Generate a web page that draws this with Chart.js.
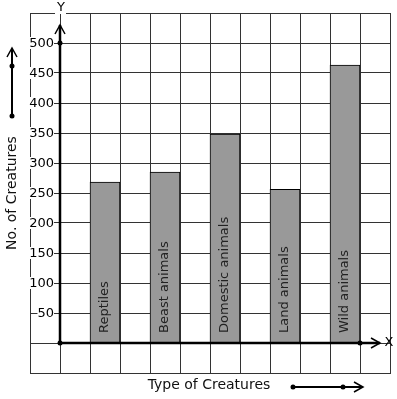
<!DOCTYPE html>
<html>
<head>
<meta charset="utf-8">
<script src="https://cdn.jsdelivr.net/npm/chart.js@4"></script>
<style>
  html, body { margin: 0; padding: 0; background: #fff; }
  #wrap { width: 397px; height: 399px; }
</style>
</head>
<body>
<div id="wrap"><canvas id="chart" width="397" height="399"></canvas></div>
<script>
// data
const categories = ["Reptiles", "Beast animals", "Domestic animals", "Land animals", "Wild animals"];
const creatureCounts = [268, 285, 348, 256, 463];
const tickLabels = [50, 100, 150, 200, 250, 300, 350, 400, 450, 500];
const yTitle = "No. of Creatures";
const xTitle = "Type of Creatures";

// 12 grid columns, a bar in every second one starting from the third
const slotLabels = Array(12).fill("");
const slotValues = Array(12).fill(null);
categories.forEach((c, i) => {
  slotLabels[2 + 2 * i] = c;
  slotValues[2 + 2 * i] = creatureCounts[i];
});

const FONT = "DejaVu Sans, sans-serif";

function arrowHead(ctx, x, y, dir) {
  ctx.beginPath();
  if (dir === "up") {
    ctx.moveTo(x - 5, y + 9); ctx.lineTo(x, y); ctx.lineTo(x + 5, y + 9);
  } else {
    ctx.moveTo(x - 9, y - 5); ctx.lineTo(x, y); ctx.lineTo(x - 9, y + 5);
  }
  ctx.stroke();
}
function dot(ctx, x, y) {
  ctx.beginPath();
  ctx.arc(x, y, 2.5, 0, Math.PI * 2);
  ctx.fill();
}

// axes, arrows, tick labels and titles
const decorations = {
  id: "decorations",
  afterDatasetsDraw(chart) {
    const ctx = chart.ctx;
    const xs = chart.scales.x, ys = chart.scales.y;
    ctx.save();
    // names written inside the bars
    ctx.font = "13px " + FONT;
    ctx.fillStyle = "#222";
    ctx.textAlign = "left";
    ctx.textBaseline = "middle";
    chart.getDatasetMeta(0).data.forEach((bar, i) => {
      if (!slotLabels[i]) return;
      ctx.save();
      ctx.translate(bar.x, ys.getPixelForValue(0) - 10);
      ctx.rotate(-Math.PI / 2);
      ctx.fillText(slotLabels[i], 0, 0);
      ctx.restore();
    });
    ctx.restore();
  },
  afterDraw(chart) {
    const ctx = chart.ctx;
    const xs = chart.scales.x, ys = chart.scales.y;
    const ox = Math.round((xs.getPixelForValue(0) + xs.getPixelForValue(1)) / 2);
    const oy = Math.round(ys.getPixelForValue(0));
    ctx.save();

    // y tick labels with white background
    ctx.font = "13px " + FONT;
    ctx.textAlign = "right";
    ctx.textBaseline = "middle";
    tickLabels.forEach(v => {
      const y = ys.getPixelForValue(v);
      const t = String(v);
      const w = ctx.measureText(t).width;
      ctx.fillStyle = "#fff";
      ctx.fillRect(54 - w, y - 6, w, 12);
      ctx.fillStyle = "#000";
      ctx.fillText(t, 54, y + 0.5);
    });

    // axes
    ctx.strokeStyle = "#000";
    ctx.fillStyle = "#000";
    ctx.lineWidth = 2.5;
    ctx.beginPath();
    ctx.moveTo(ox, oy); ctx.lineTo(ox, 25);
    ctx.moveTo(ox, oy); ctx.lineTo(380, oy);
    ctx.stroke();
    ctx.lineWidth = 1.5;
    arrowHead(ctx, ox, 25, "up");
    arrowHead(ctx, 380, oy, "right");
    dot(ctx, ox, oy);
    dot(ctx, ox, ys.getPixelForValue(500));
    dot(ctx, xs.getPixelForValue(10) + 15, oy);

    ctx.font = "13px " + FONT;
    ctx.textAlign = "center";
    ctx.fillStyle = "#fff";
    ctx.fillRect(ox - 5, 2, 11, 12);
    ctx.fillStyle = "#000";
    ctx.fillText("Y", ox + 1, 8);
    ctx.fillText("X", 389, oy);

    // axis titles
    ctx.font = "14px " + FONT;
    ctx.fillStyle = "#111";
    ctx.fillText(xTitle, 209, 385);
    ctx.save();
    ctx.translate(12, 193);
    ctx.rotate(-Math.PI / 2);
    ctx.fillText(yTitle, 0, 0);
    ctx.restore();

    // title arrows
    ctx.fillStyle = "#000";
    ctx.lineWidth = 2;
    ctx.beginPath();
    ctx.moveTo(12, 116); ctx.lineTo(12, 49);
    ctx.moveTo(293, 387); ctx.lineTo(362, 387);
    ctx.stroke();
    ctx.lineWidth = 1.5;
    arrowHead(ctx, 12, 48, "up");
    arrowHead(ctx, 363, 387, "right");
    dot(ctx, 12, 116); dot(ctx, 12, 66);
    dot(ctx, 293, 387); dot(ctx, 343, 387);
    ctx.restore();
  }
};

new Chart(document.getElementById("chart"), {
  type: "bar",
  data: {
    labels: slotLabels,
    datasets: [{
      data: slotValues,
      backgroundColor: "#999999",
      borderColor: "#000",
      borderWidth: 1,
      barPercentage: 1,
      categoryPercentage: 1
    }]
  },
  options: {
    responsive: false,
    animation: false,
    events: [],
    layout: { padding: { left: 30, right: 7, top: 13, bottom: 26 } },
    plugins: { legend: { display: false }, tooltip: { enabled: false } },
    scales: {
      x: {
        offset: true,
        grid: { color: "#333", lineWidth: 1, drawTicks: false, offset: true },
        border: { color: "#333", width: 1 },
        ticks: { display: false }
      },
      y: {
        min: -50,
        max: 550,
        grid: { color: "#333", lineWidth: 1, drawTicks: false },
        border: { color: "#333", width: 1 },
        ticks: { display: false, stepSize: 50 }
      }
    }
  },
  plugins: [decorations]
});
</script>
</body>
</html>
